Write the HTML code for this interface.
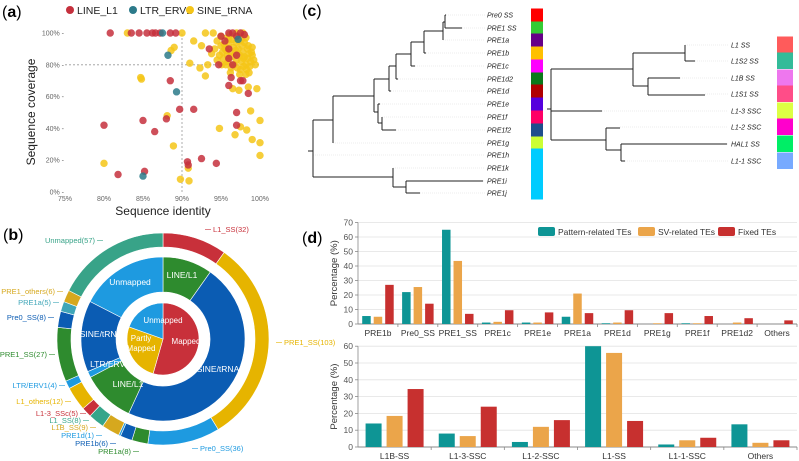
<!DOCTYPE html>
<html><head><meta charset="utf-8"><style>
html,body{margin:0;padding:0;background:#fff}
svg{display:block;font-family:"Liberation Sans",sans-serif}
</style></head><body>
<svg id="fig" width="799" height="461" viewBox="0 0 799 461" xmlns="http://www.w3.org/2000/svg">
<g id="pa"></g>
<g id="pb"></g>
<g id="pc"></g>
<g id="pd"></g>
<text x="2" y="17" font-size="16">(<tspan font-weight="bold">a</tspan>)</text>
<text x="3" y="240" font-size="16">(<tspan font-weight="bold">b</tspan>)</text>
<text x="302" y="16" font-size="16">(<tspan font-weight="bold">c</tspan>)</text>
<text x="302" y="243" font-size="16">(<tspan font-weight="bold">d</tspan>)</text>
</svg>
<script>
// ---------- Panel (a) data ----------
const lineL1 = [[80.8,100],[83.5,100],[84.5,100],[85.5,100],[86.2,100],[86.6,100],[87.2,100],[88.5,100],[89.2,100],[80,42],[81.8,11],[85,45],[85.2,13],[86.5,38],[88.5,70],[88,46],[89.7,52],[91.5,52],[90.7,19],[90.8,17],[92.5,21],[94.4,18],[94.7,80],[96,67],[96.3,72],[97.5,70],[97.8,70],[97,50],[97,42],[98.5,62],[95,98],[96,100],[96.5,100],[97.5,100],[97,98],[96,90],[96.5,80],[93.5,90],[97,86],[96,84],[95.5,95],[98,99]];
const ltrERV1 = [[87.5,100],[88.2,86],[89.3,63],[85,10],[97.2,96]];
const sineTRNA = [[83,100],[84.7,72],[84.8,71],[88.6,89],[89,91],[90,100],[88.1,48],[88.9,29],[80,18],[89.8,8],[90.8,15],[90.9,7],[91,81],[92.3,78],[93,73],[93.3,80],[94.8,40],[96.8,36],[97.5,41],[98.3,39],[98.8,51],[99,33],[99.6,65],[100,45],[100,31],[100,23],[96.5,65],[97.3,64],[98.2,74],[98.5,66],[91.5,95],[92.5,92],[93,100],[94,100],
[94.5,95],[95,92],[95.2,88],[95.5,90],[95.8,86],[96,93],[96.2,88],[96.4,85],[96.6,91],[96.8,87],[97,83],[97.2,90],[97.4,86],[97.6,82],[97.8,88],[98,85],[98.2,80],[98.4,84],[98.6,87],[98.8,82],[99,86],[95.3,84],[95.6,80],[95.9,82],[96.3,78],[96.7,80],[97.1,78],[97.5,77],[97.9,79],[98.3,77],[98.7,79],[94.8,86],[95,98],[95.8,97],[96.5,96],[97.3,95],[98,94],[98.5,92],[99,91],[94.2,90],[95.4,93],[96.1,99],[97,100],[97.8,100],[98.2,97],[96.9,94],[97.7,92],[98.9,88],[99.2,83],[99.4,80],[98.6,75],[97.4,74],[96.2,75],[95.1,80],[94.5,83],[93.8,87],[96,96],[97.6,96],[98.4,90],[95.7,89],[96.9,89],[97.9,84]];
const xTicksA = [75,80,85,90,95,100];
const yTicksA = [0,20,40,60,80,100];

// ---------- Panel (b) data ----------
const outerLabels = ["L1_SS(32)","PRE1_SS(103)","Pre0_SS(36)","PRE1a(8)","PRE1b(6)","PRE1d(1)","L1B_SS(9)","L1_SS(8)","L1-3_SSc(5)","L1_others(12)","LTR/ERV1(4)","PRE1_SS(27)","Pre0_SS(8)","PRE1a(5)","PRE1_others(6)","Unmapped(57)"];
const outerCounts = [32,103,36,8,6,1,9,8,5,12,4,27,8,5,6,57];
const middleLabels = ["LINE/L1","SINE/tRNA","LINE/L1","LTR/ERV1","SINE/tRNA","Unmapped"];
const middleCounts = [32,154,34,4,46,57];
const innerLabels = ["Mapped","Partly Mapped","Unmapped"];
const innerCounts = [178,85,64];

// ---------- Panel (d) data ----------
const catsTop = ["PRE1b","Pre0_SS","PRE1_SS","PRE1c","PRE1e","PRE1a","PRE1d","PRE1g","PRE1f","PRE1d2","Others"];
const patTop = [5.5,22,65,1,1,5,0.5,0,0.5,0,0];
const svTop = [5,25.5,43.5,1.5,1,21,1,0.5,0.5,1,0];
const fixTop = [27,14,7,9.5,8,7.5,9.5,7.5,5.5,4,2.5];
const ticksTop = [0,10,20,30,40,50,60,70];
const catsBot = ["L1B-SS","L1-3-SSC","L1-2-SSC","L1-SS","L1-1-SSC","Others"];
const patBot = [14,8,3,60,1.5,13.5];
const svBot = [18.5,6.5,12,56,4,2.5];
const fixBot = [34.5,24,16,15.5,5.5,4];
const ticksBot = [0,10,20,30,40,50,60];

const NS="http://www.w3.org/2000/svg";
function mk(parent,tag,attrs,txt){const e=document.createElementNS(NS,tag);for(const k in attrs)e.setAttribute(k,attrs[k]);if(txt!==undefined)e.textContent=txt;parent.appendChild(e);return e;}

// ===== Panel A =====
(function(){
const g=document.getElementById('pa');
const xA=v=>65+(v-75)*7.8, yA=v=>192-v*1.59;
const ref1=mk(g,'line',{x1:xA(75),x2:xA(100),y1:yA(80),y2:yA(80),stroke:'#999','stroke-dasharray':'2,2','stroke-width':0.8});


const ref2=mk(g,'line',{x1:xA(90),x2:xA(90),y1:yA(0),y2:yA(100),stroke:'#999','stroke-dasharray':'2,2','stroke-width':0.8});


xTicksA.forEach(t=>{const e=mk(g,'text',{x:xA(t),y:201,'font-size':7,fill:'#666','text-anchor':'middle'},t+'%');

});
yTicksA.forEach(t=>{const e=mk(g,'text',{x:64,y:yA(t)+2.5,'font-size':7,fill:'#666','text-anchor':'end'},t+'% -');

});
const series=[[sineTRNA,'#f5c518','sine-trna-point'],[lineL1,'#c5303d','line-l1-point'],[ltrERV1,'#2c7a8a','ltr-erv1-point']];
series.forEach(([arr,col,nm])=>arr.forEach(p=>{const c=mk(g,'circle',{cx:xA(p[0]),cy:yA(p[1]),r:3.7,fill:col,'fill-opacity':0.85});

}));
const xt=mk(g,'text',{x:163,y:215,'font-size':12,'text-anchor':'middle',fill:'#222'},'Sequence identity');


const yt=mk(g,'text',{x:0,y:0,'font-size':12,'text-anchor':'middle',fill:'#222',transform:'translate(35,112) rotate(-90)'},'Sequence coverage');


const leg=[['#c5303d','LINE_L1',70],['#2c7a8a','LTR_ERV1',133],['#f5c518','SINE_tRNA',190]];
leg.forEach(([c,t,x])=>{const lg=mk(g,'g',{});


mk(lg,'circle',{cx:x,cy:10,r:4,fill:c});mk(lg,'text',{x:x+7,y:14,'font-size':10.5,fill:'#222'},t);});
})();

// ===== Panel B =====
(function(){
const g=document.getElementById('pb');
const cx=163,cy=339;
function arc(a0,a1,r0,r1,fill,nm){
 const p=(a,r)=>[cx+r*Math.sin(a),cy-r*Math.cos(a)];
 const lg=(a1-a0)>Math.PI?1:0;
 const [x0,y0]=p(a0,r1),[x1,y1]=p(a1,r1),[x2,y2]=p(a1,r0),[x3,y3]=p(a0,r0);
 let d=`M${x0},${y0}A${r1},${r1} 0 ${lg} 1 ${x1},${y1}`;
 d+= r0>0?`L${x2},${y2}A${r0},${r0} 0 ${lg} 0 ${x3},${y3}Z`:`L${cx},${cy}Z`;
 const e=mk(g,'path',{d,fill,stroke:'#fff','stroke-width':0.6});
 
 
}
function ring(counts,cols,r0,r1,prefix){
 const tot=counts.reduce((a,b)=>a+b,0);let a=0;const mids=[];
 counts.forEach((c,i)=>{const a1=a+c/tot*2*Math.PI;arc(a,a1,r0,r1,cols[i],prefix);mids.push((a+a1)/2);a=a1;});
 return mids;
}
const oc=['#c8303a','#e6b400','#1e9ae0','#2e8b2e','#0b5cb3','#1e9ae0','#d6a81e','#35a58a','#c8303a','#e6b400','#1e9ae0','#2e8b2e','#0b5cb3','#3fa6b8','#d6a81e','#38a388'];
ring(outerCounts,oc,92,106,'outer-ring-segment');
const mc=['#2e8b2e','#0b5cb3','#2e8b2e','#1e9ae0','#0b5cb3','#1e9ae0'];
ring(middleCounts,mc,47,82,'middle-ring-segment');
const ic=['#c8303a','#e6b400','#1e9ae0'];
ring(innerCounts,ic,0,36,'inner-pie-slice');
const ml=[[182,278,'LINE/L1'],[218,372,'SINE/tRNA'],[128,387,'LINE/L1'],[110,367,'LTR/ERV1'],[101,337,'SINE/tRNA'],[130,285,'Unmapped']];
ml.forEach(([x,y,t])=>{const e=mk(g,'text',{x,y,'font-size':8.5,fill:'#fff','text-anchor':'middle'},t);

});
[[163,323,'Unmapped'],[141,341,'Partly'],[141,351,'Mapped'],[186,344,'Mapped']].forEach(([x,y,t])=>{const e=mk(g,'text',{x,y,'font-size':8,fill:'#fff','text-anchor':'middle'},t);

});
const lp=[[0,213,232,'start'],[1,284,345,'start'],[2,200,451,'start'],[3,131,454,'end'],[4,108,446,'end'],[5,94,438,'end'],[6,88,430,'end'],[7,81,423,'end'],[8,78,416,'end'],[9,63,404,'end'],[10,57,388,'end'],[11,47,357,'end'],[12,46,320,'end'],[13,51,305,'end'],[14,55,294,'end'],[15,95,243,'end']];
lp.forEach(([i,x,y,an])=>{const col=oc[i];
const e=mk(g,'text',{x,y,'font-size':7.5,fill:col,'text-anchor':an},outerLabels[i]);


const lx=an==='end'?x+2:x-2;
mk(g,'line',{x1:lx,y1:y-2.5,x2:lx+(an==='end'?6:-6),y2:y-2.5,stroke:col,'stroke-width':0.6});});
})();

// ===== Panel C =====
(function(){
const g=document.getElementById('pc');
const st={stroke:'#222','stroke-width':1,fill:'none'};
function P(d,nm){const e=mk(g,'path',Object.assign({d},st));}
const leftLeaves=['Pre0 SS','PRE1 SS','PRE1a','PRE1b','PRE1c','PRE1d2','PRE1d','PRE1e','PRE1f','PRE1f2','PRE1g','PRE1h','PRE1k','PRE1i','PRE1j'];
const leftY=[15,28,40,53,66,79,91,104,117,130,143,155,168,181,193];
const leftEnd=[446,462,443,426,415,398,391,380,382,396,333,313,393,483,420];
const leftCols=['#ff0000','#33cc33','#660088','#ffc000','#ff00ff','#0a7a1a','#b00000','#5500dd','#ff0066','#1f4e8c','#ccff33','#00ccff','#00ccff','#00ccff','#00ccff'];
leftLeaves.forEach((t,i)=>{
 const l=mk(g,'line',{x1:leftEnd[i],x2:485,y1:leftY[i],y2:leftY[i],stroke:'#ddd','stroke-width':0.5,'stroke-dasharray':'1,1'});
 
 const e=mk(g,'text',{x:487,y:leftY[i]+2.5,'font-size':7,'font-style':'italic',fill:'#222'},t);
 
 const r=mk(g,'rect',{x:531,y:leftY[i]-6.5,width:12,height:13,fill:leftCols[i]});
 
});
P('M445,15V28M445,15H446M445,28H462M443,22V40M443,22H445M424,31V53M424,31H443M424,53H426M411,42V66M411,42H424M411,66H415M396,54V79M396,54H411M396,79H398M389,66V91M389,66H396M389,91H391M382,117V130M382,130H396M378,104V123M378,104H380M378,123H382M374,79V112M374,79H389M374,112H378M333,96V143M333,96H374M313,120V177M313,120H333M308,151H313M393,168V187M393,177H313M406,181V193M406,187H393M406,181H483M406,193H420','left-tree-branches');
const rightLeaves=['L1 SS','L1S2 SS','L1B SS','L1S1 SS','L1-3 SSC','L1-2 SSC','HAL1 SS','L1-1 SSC'];
const rightY=[45,61,78,94,111,127,144,161];
const rightEnd=[685,695,680,705,602,620,727,625];
const rightCols=['#ff5b5b','#33bb99','#ee77ee','#ff4d88','#ddff44','#ff00cc','#00ee66','#77aaff'];
rightLeaves.forEach((t,i)=>{
 const l=mk(g,'line',{x1:rightEnd[i],x2:728,y1:rightY[i],y2:rightY[i],stroke:'#ddd','stroke-width':0.5,'stroke-dasharray':'1,1'});
 
 const e=mk(g,'text',{x:731,y:rightY[i]+2.5,'font-size':7,'font-style':'italic',fill:'#222'},t);
 
 const r=mk(g,'rect',{x:777,y:rightY[i]-8.5,width:16,height:16.5,fill:rightCols[i]});
 
});
P('M547,109H551M551,69V140M551,69H633M633,53V86M633,53H685M685,45V61M685,61H695M633,86H648M648,78V95M648,78H680M648,95H705M551,111H602M551,140H606M606,128V150M606,128H620M606,150H621M621,144V161M621,144H727M621,161H625','right-tree-branches');
})();

// ===== Panel D =====
(function(){
const g=document.getElementById('pd');
const X0=358,X1=797;
const C=['#0e9595','#eba54a','#c7302f'];
function chart(cats,series,ticks,y0,scale,bw,gap,nm){
 const yv=v=>y0-v*scale;
 const cw=(X1-X0)/cats.length;
 ticks.forEach(t=>{
  const l=mk(g,'line',{x1:X0,x2:X1,y1:yv(t),y2:yv(t),stroke:t===0?'#888':'#e2e2e2','stroke-width':t===0?1:0.8});
  
  const e=mk(g,'text',{x:X0-5,y:yv(t)+3,'font-size':8.5,fill:'#555','text-anchor':'end'},t);
  
  mk(g,'line',{x1:X0-3,x2:X0,y1:yv(t),y2:yv(t),stroke:'#888','stroke-width':0.8});
 });
 mk(g,'line',{x1:X0,x2:X0,y1:yv(ticks[ticks.length-1]),y2:y0,stroke:'#888','stroke-width':0.8});
 cats.forEach((c,i)=>{
  const cx=X0+cw*(i+0.5);
  mk(g,'line',{x1:X0+cw*(i+1),x2:X0+cw*(i+1),y1:y0,y2:y0+3,stroke:'#888','stroke-width':0.8});
  const e=mk(g,'text',{x:cx,y:y0+12,'font-size':8.5,fill:'#333','text-anchor':'middle'},c);
  
  series.forEach((s,k)=>{
   const x=cx+(k-1)*(bw+gap)-bw/2;
   const r=mk(g,'rect',{x,y:yv(s[i]),width:bw,height:s[i]*scale,fill:C[k]});
   
  });
 });
 const t=mk(g,'text',{x:0,y:0,'font-size':9.5,fill:'#333','text-anchor':'middle',transform:`translate(337,${(y0+yv(ticks[ticks.length-1]))/2}) rotate(-90)`},'Percentage (%)');
 
}
chart(catsTop,[patTop,svTop,fixTop],ticksTop,324,1.45,8.5,3,'top');
chart(catsBot,[patBot,svBot,fixBot],ticksBot,447,1.68,16,5,'bottom');
const leg=[[538,'Pattern-related TEs',0],[638,'SV-related TEs',1],[718,'Fixed TEs',2]];
leg.forEach(([x,t,k])=>{const lg=mk(g,'g',{});


mk(lg,'rect',{x,y:227,width:17,height:9,rx:2,fill:C[k]});
mk(lg,'text',{x:x+20,y:235,'font-size':8.5,fill:'#333'},t);});
})();
</script>
</body></html>
